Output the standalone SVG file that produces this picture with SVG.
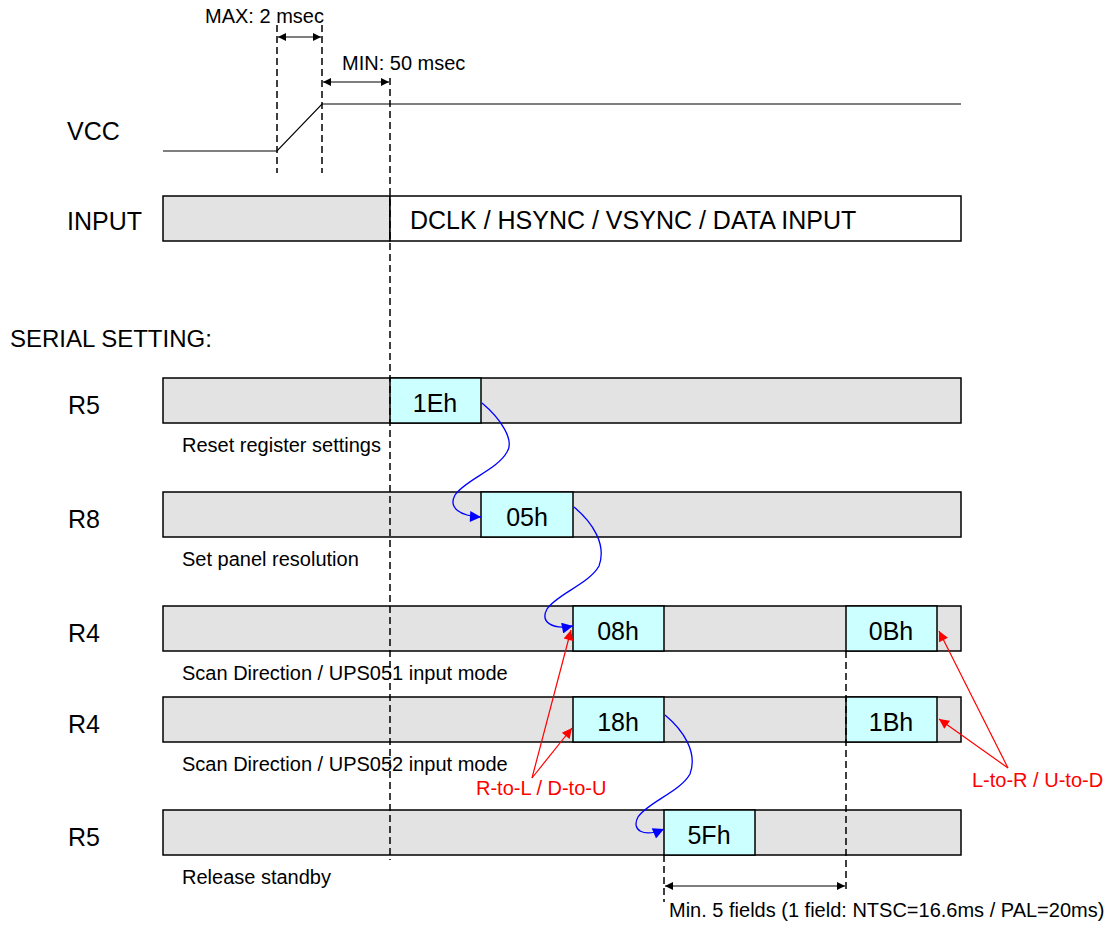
<svg xmlns="http://www.w3.org/2000/svg" width="1120" height="931" viewBox="0 0 1120 931">
<style>
text{font-family:"Liberation Sans",Arial,sans-serif;fill:#000}
.lbl{font-size:25px}
.small{font-size:20px}
.val{font-size:25px;text-anchor:middle}
.bar{fill:#e3e3e3;stroke:#000;stroke-width:1.5}
.cell{fill:#ccffff;stroke:#000;stroke-width:1.5}
.dash{stroke:#000;stroke-width:1.5;stroke-dasharray:7,4;fill:none}
.line{stroke:#000;stroke-width:1.2;fill:none}
.blue{stroke:#0000ff;stroke-width:1.3;fill:none;marker-end:url(#ab)}
.red{stroke:#ff0000;stroke-width:1.2;fill:none;marker-end:url(#ar)}
.red-t{fill:#ff0000;font-size:20px}
</style>
<defs>
<marker id="ak" viewBox="0 0 10 10" refX="10" refY="5" markerWidth="10" markerHeight="8" markerUnits="userSpaceOnUse" orient="auto-start-reverse"><path d="M0,0 L10,5 L0,10 z" fill="#000"/></marker>
<marker id="ab" viewBox="0 0 10 10" refX="10" refY="5" markerWidth="14" markerHeight="11" markerUnits="userSpaceOnUse" orient="auto"><path d="M0,0 L10,5 L0,10 z" fill="#0000ff"/></marker>
<marker id="ar" viewBox="0 0 10 10" refX="10" refY="5" markerWidth="14" markerHeight="10" markerUnits="userSpaceOnUse" orient="auto"><path d="M0,0 L10,5 L0,10 z" fill="#ff0000"/></marker>
</defs>

<g id="vcc">
<text x="67" y="140" class="lbl">VCC</text>
<polyline class="line" points="163,151 277,151 322,104 961,104"/>
</g>

<g id="input">
<text x="67" y="230" class="lbl">INPUT</text>
<rect x="163" y="196" width="227" height="45" class="bar"/>
<rect x="390" y="196" width="571" height="45" fill="#fff" stroke="#000" stroke-width="1.5"/>
<text x="410" y="229" style="font-size:25px">DCLK / HSYNC / VSYNC / DATA INPUT</text>
</g>

<text x="10" y="347" style="font-size:24px">SERIAL SETTING:</text>

<g id="row1">
<text x="68" y="414" class="lbl">R5</text>
<rect x="163" y="378" width="798" height="45" class="bar"/>
<rect x="390" y="378" width="91" height="45" class="cell"/>
<text x="435" y="412" class="val">1Eh</text>
<text x="182" y="452" class="small">Reset register settings</text>
</g>

<g id="row2">
<text x="68" y="528" class="lbl">R8</text>
<rect x="163" y="492" width="798" height="45" class="bar"/>
<rect x="481" y="492" width="92" height="45" class="cell"/>
<text x="527" y="526" class="val">05h</text>
<text x="182" y="566" class="small">Set panel resolution</text>
</g>

<g id="row3">
<text x="68" y="642" class="lbl">R4</text>
<rect x="163" y="606" width="798" height="45" class="bar"/>
<rect x="573" y="606" width="91" height="45" class="cell"/>
<text x="618" y="640" class="val">08h</text>
<rect x="846" y="606" width="91" height="45" class="cell"/>
<text x="891" y="640" class="val">0Bh</text>
<text x="182" y="680" class="small">Scan Direction / UPS051 input mode</text>
</g>

<g id="row4">
<text x="68" y="733" class="lbl">R4</text>
<rect x="163" y="697" width="798" height="45" class="bar"/>
<rect x="573" y="697" width="91" height="45" class="cell"/>
<text x="618" y="731" class="val">18h</text>
<rect x="846" y="697" width="91" height="45" class="cell"/>
<text x="891" y="731" class="val">1Bh</text>
<text x="182" y="771" class="small">Scan Direction / UPS052 input mode</text>
</g>

<g id="row5">
<text x="68" y="846" class="lbl">R5</text>
<rect x="163" y="810" width="798" height="45" class="bar"/>
<rect x="664" y="810" width="91" height="45" class="cell"/>
<text x="709" y="844" class="val">5Fh</text>
<text x="182" y="884" class="small">Release standby</text>
</g>

<g id="connectors">
<line x1="277" y1="25" x2="277" y2="173" class="dash"/>
<line x1="322" y1="25" x2="322" y2="173" class="dash"/>
<line x1="390" y1="78" x2="390" y2="860" class="dash"/>
<line x1="846" y1="651" x2="846" y2="892" class="dash"/>
<line x1="664" y1="855" x2="664" y2="902" class="dash"/>
<line x1="278" y1="37" x2="321" y2="37" class="line" marker-start="url(#ak)" marker-end="url(#ak)"/>
<line x1="323" y1="82" x2="389" y2="82" class="line" marker-start="url(#ak)" marker-end="url(#ak)"/>
<line x1="665" y1="886" x2="845" y2="886" class="line" marker-start="url(#ak)" marker-end="url(#ak)"/>
<path class="blue" d="M482,403 C500,418 515,440 507,452 C497,470 465,480 455,495 C448,508 460,516 481,517"/>
<path class="blue" d="M574,507 C592,522 607,544 599,566 C589,584 557,594 547,609 C540,622 552,630 573,626"/>
<path class="blue" d="M665,715 C683,730 698,752 690,774 C680,792 648,802 638,817 C631,830 643,838 664,829"/>
<line x1="532" y1="778" x2="571" y2="630" class="red"/>
<line x1="532" y1="778" x2="572" y2="728" class="red"/>
<line x1="1008" y1="768" x2="939" y2="631" class="red"/>
<line x1="1008" y1="768" x2="939" y2="719" class="red"/>
</g>

<text x="205" y="23" style="font-size:20px">MAX: 2 msec</text>
<text x="342" y="70" style="font-size:20px">MIN: 50 msec</text>
<text x="476" y="795" class="red-t">R-to-L / D-to-U</text>
<text x="972" y="787" class="red-t">L-to-R / U-to-D</text>
<text x="669" y="917" class="small">Min. 5 fields (1 field: NTSC=16.6ms / PAL=20ms)</text>
</svg>
